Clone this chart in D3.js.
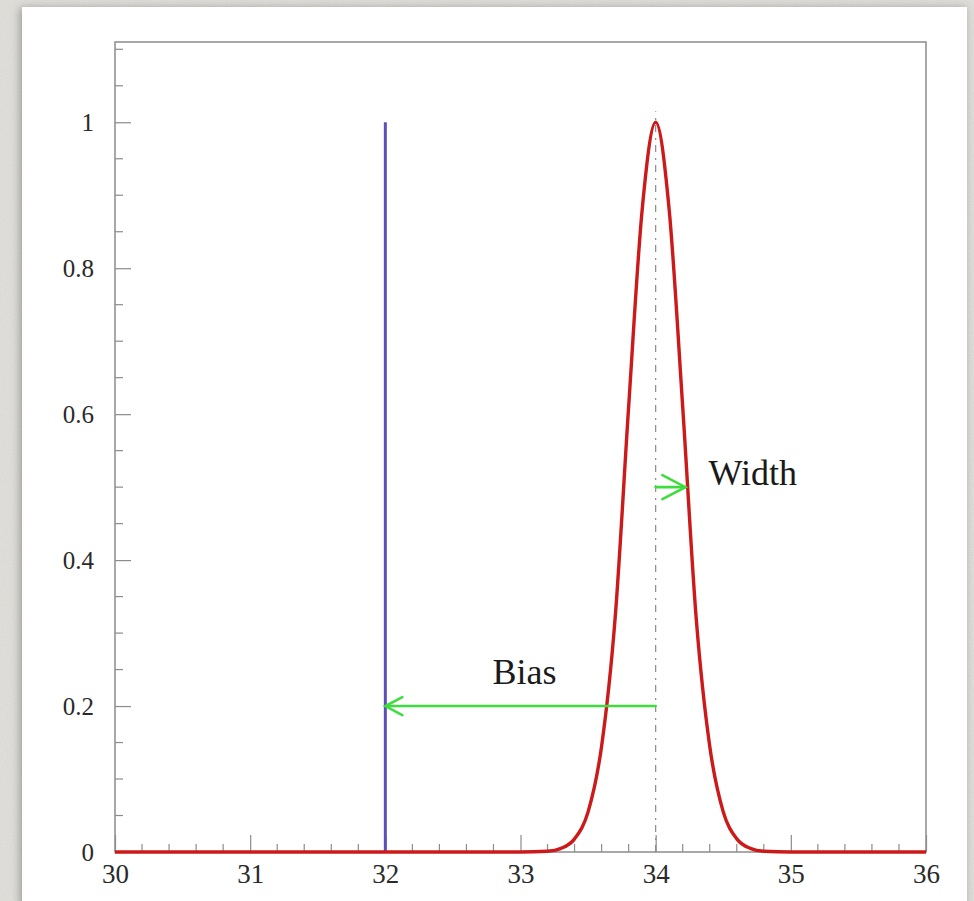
<!DOCTYPE html>
<html>
<head>
<meta charset="utf-8">
<script src="https://cdn.jsdelivr.net/npm/d3@7"></script>
<style>
  html, body { margin: 0; padding: 0; background: #e4e2de; }
  svg { display: block; }
</style>
</head>
<body>
<script>
// x ticks / y ticks of the frame
const xTicks = [30, 31, 32, 33, 34, 35, 36];
const yTicks = [0, 0.2, 0.4, 0.6, 0.8, 1];
const yTickLabels = ["0", "0.2", "0.4", "0.6", "0.8", "1"];

// red response curve
const curveX = [30, 32, 33, 33.2, 33.3, 33.4, 33.5, 33.6, 33.7, 33.8, 33.9, 34, 34.1, 34.2, 34.3, 34.4, 34.5, 34.6, 34.7, 34.8, 35, 36];
const curveY = [0, 0, 0, 0.001, 0.005, 0.018, 0.055, 0.145, 0.32, 0.61, 0.88, 1, 0.88, 0.61, 0.32, 0.145, 0.055, 0.018, 0.005, 0.001, 0, 0];

// true value (blue) and mean of the response (dashed)
const trueValue = 32;
const meanValue = 34;
const meanTop = 1.015;

// annotations
const arrows = [
    {name: "Bias", from: 34, to: 32, at: 0.2, head: [17, 9]},
    {name: "Width", from: 34, to: 34.22, at: 0.5, head: [23, 12]}
];
const labels = [
    {text: "Bias", x: 33.03, y: 0.23, anchor: "middle"},
    {text: "Width", x: 34.39, y: 0.503, anchor: "start"}
];

const W = 974, H = 901;
const x = d3.scaleLinear().domain([30, 36]).range([115, 926]);
const y = d3.scaleLinear().domain([0, 1.11]).range([852, 42]);

const svg = d3.select("body").append("svg")
    .attr("width", W)
    .attr("height", H);

const defs = svg.append("defs");
const paper = defs.append("filter").attr("id", "paper").attr("x", 0).attr("y", 0).attr("width", "100%").attr("height", "100%");
paper.append("feTurbulence").attr("type", "fractalNoise").attr("baseFrequency", 0.9).attr("numOctaves", 2).attr("seed", 3);
paper.append("feColorMatrix").attr("values", "0 0 0 0 0.45  0 0 0 0 0.44  0 0 0 0 0.42  0 0 0 0.22 0");
paper.append("feComposite").attr("in2", "SourceGraphic").attr("operator", "in");
paper.append("feBlend").attr("in2", "SourceGraphic").attr("mode", "multiply");

const shadow = defs.append("filter").attr("id", "shadow").attr("x", "-5%").attr("y", "-5%").attr("width", "110%").attr("height", "110%");
shadow.append("feDropShadow").attr("dx", -2).attr("dy", 1).attr("stdDeviation", 4)
    .attr("flood-color", "#000").attr("flood-opacity", 0.3);

// background and white page
svg.append("rect").attr("width", W).attr("height", H).attr("fill", "#e4e2de").attr("filter", "url(#paper)");
svg.append("rect").attr("x", 22).attr("y", 7).attr("width", 945).attr("height", 920)
    .attr("fill", "#fff").attr("filter", "url(#shadow)");

const font = "'Liberation Serif', 'Times New Roman', serif";

// minor ticks
const xMinor = d3.range(30, 36.001, 0.2).filter(v => Math.abs(v - Math.round(v)) > 1e-6);
const yMinor = d3.range(0, 1.1001, 0.05).filter(v => Math.abs(v * 5 - Math.round(v * 5)) > 1e-6);

const axisColor = "#8c8c8c";

svg.append("g")
    .selectAll("line")
    .data(xMinor)
    .join("line")
    .attr("x1", d => x(d)).attr("x2", d => x(d))
    .attr("y1", y(0)).attr("y2", y(0) - 8)
    .attr("stroke", axisColor).attr("stroke-width", 1.2);

svg.append("g")
    .selectAll("line")
    .data(yMinor)
    .join("line")
    .attr("x1", x(30)).attr("x2", x(30) + 8)
    .attr("y1", d => y(d)).attr("y2", d => y(d))
    .attr("stroke", axisColor).attr("stroke-width", 1.2);

const xAxis = svg.append("g")
    .attr("transform", `translate(0,${y(0)})`)
    .call(d3.axisBottom(x).tickValues(xTicks).tickSize(-17).tickFormat(d => d));
xAxis.select(".domain").remove();
xAxis.selectAll(".tick line").attr("stroke", axisColor).attr("stroke-width", 1.2);
xAxis.selectAll(".tick text")
    .attr("y", 31).attr("dy", 0)
    .attr("fill", "#2a2a2a")
    .style("font-family", font).style("font-size", "27px");

const yAxis = svg.append("g")
    .attr("transform", `translate(${x(30)},0)`)
    .call(d3.axisLeft(y).tickValues(yTicks).tickSize(-16).tickFormat((d, i) => yTickLabels[i]));
yAxis.select(".domain").remove();
yAxis.selectAll(".tick line").attr("stroke", axisColor).attr("stroke-width", 1.2);
yAxis.selectAll(".tick text")
    .attr("x", -21).attr("dy", "0.34em")
    .attr("fill", "#2a2a2a")
    .style("font-family", font).style("font-size", "25px");

// frame
svg.append("rect")
    .attr("x", x(30)).attr("y", y(1.11))
    .attr("width", x(36) - x(30)).attr("height", y(0) - y(1.11))
    .attr("fill", "none").attr("stroke", axisColor).attr("stroke-width", 1.5);

// dashed mean line
svg.append("line")
    .attr("x1", x(meanValue)).attr("x2", x(meanValue))
    .attr("y1", y(0)).attr("y2", y(meanTop))
    .attr("stroke", "#8a8a8a").attr("stroke-width", 1.2)
    .attr("stroke-dasharray", "7,5,2,6");

// true value
svg.append("line")
    .attr("x1", x(trueValue)).attr("x2", x(trueValue))
    .attr("y1", y(0)).attr("y2", y(1))
    .attr("stroke", "#5a50b8").attr("stroke-width", 3);

// response curve
const pts = curveX.map((v, i) => [v, curveY[i]]);
svg.append("path")
    .datum(pts)
    .attr("fill", "none")
    .attr("stroke", "#cc1a1a")
    .attr("stroke-width", 3.4)
    .attr("stroke-linejoin", "round")
    .attr("d", d3.line().x(d => x(d[0])).y(d => y(d[1])).curve(d3.curveMonotoneX));

// arrows
const arrowG = svg.append("g")
    .attr("fill", "none")
    .attr("stroke", "#3fdc3f")
    .attr("stroke-width", 2.6)
    .attr("stroke-linecap", "round");

arrows.forEach(a => {
    const x0 = x(a.from), x1 = x(a.to), yy = y(a.at);
    const dir = x1 > x0 ? 1 : -1;
    arrowG.append("line").attr("x1", x0).attr("x2", x1).attr("y1", yy).attr("y2", yy);
    arrowG.append("path")
        .attr("d", `M${x1 - dir * a.head[0]},${yy - a.head[1]} L${x1},${yy} L${x1 - dir * a.head[0]},${yy + a.head[1]}`);
});

svg.append("g")
    .selectAll("text")
    .data(labels)
    .join("text")
    .attr("x", d => x(d.x))
    .attr("y", d => y(d.y))
    .attr("text-anchor", d => d.anchor)
    .attr("fill", "#1a1a1a")
    .style("font-family", font)
    .style("font-size", "36px")
    .text(d => d.text);
</script>
</body>
</html>
